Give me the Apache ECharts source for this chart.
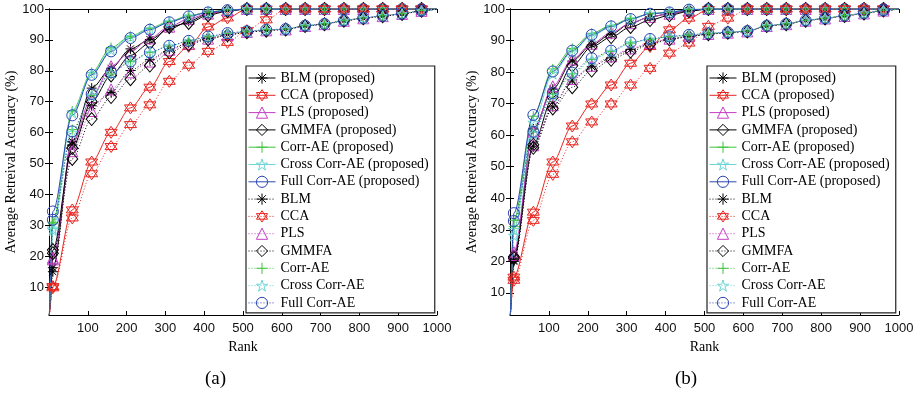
<!DOCTYPE html>
<html>
<head>
<meta charset="utf-8">
<script src="https://cdn.jsdelivr.net/npm/echarts@6/dist/echarts.min.js"></script>
<style>
html, body { margin: 0; padding: 0; background: #fff; }
#chart { width: 919px; height: 400px; }
</style>
</head>
<body>
<div id="chart"></div>
<script>
// ranks where values were read (markers every 50, plus start/end)
const ranks = [1, 10, 60, 110, 160, 210, 260, 310, 360, 410, 460, 510, 560, 610, 660, 710, 760, 810, 860, 910, 960, 1000];
const xTicks = [100, 200, 300, 400, 500, 600, 700, 800, 900, 1000];
const yTicks = [10, 20, 30, 40, 50, 60, 70, 80, 90, 100];
const names = [
  'BLM (proposed)', 'CCA (proposed)', 'PLS (proposed)', 'GMMFA (proposed)',
  'Corr-AE (proposed)', 'Cross Corr-AE (proposed)', 'Full Corr-AE (proposed)',
  'BLM', 'CCA', 'PLS', 'GMMFA', 'Corr-AE', 'Cross Corr-AE', 'Full Corr-AE'
];

// (a)
const blmPropA   = [1, 16.3, 57.2, 74.4, 80.8, 87.1, 90.1, 93.5, 96, 98.5, 99.5, 100, 100, 100, 100, 100, 100, 100, 100, 100, 100, 100];
const ccaPropA   = [1, 10.2, 35, 50.5, 60.1, 68, 74.7, 83, 87.9, 94.2, 97.1, 100, 100, 100, 100, 100, 100, 100, 100, 100, 100, 100];
const plsPropA   = [1, 19.5, 56.5, 71.5, 81.5, 86.2, 90.5, 94.3, 96.8, 98.5, 99.5, 100, 100, 100, 100, 100, 100, 100, 100, 100, 100, 100];
const gmmfaPropA = [1, 22, 55, 70, 78.5, 85, 89, 94.2, 95.5, 98, 99.3, 100, 100, 100, 100, 100, 100, 100, 100, 100, 100, 100];
const corrPropA  = [1, 31, 67, 79.5, 87.5, 91.2, 93.8, 96, 97.8, 99, 99.7, 100, 100, 100, 100, 100, 100, 100, 100, 100, 100, 100];
const crossPropA = [1, 29, 66.5, 79, 86.8, 91, 93.5, 95.8, 97.7, 99, 99.6, 100, 100, 100, 100, 100, 100, 100, 100, 100, 100, 100];
const fullPropA  = [1, 34.5, 65.6, 78.7, 86.3, 90.6, 93.3, 95.7, 97.6, 98.9, 99.6, 100, 100, 100, 100, 100, 100, 100, 100, 100, 100, 100];
const blmA   = [1, 15, 56, 68.7, 73, 80.1, 83.6, 87, 89, 90.5, 91.8, 92.6, 93.1, 93.4, 94.5, 95.1, 96.2, 97, 97.7, 98.4, 99.4, 100];
const ccaA   = [1, 9.8, 32.4, 46.7, 55.5, 62.6, 69, 76.6, 81.8, 86.3, 89.2, 93, 96.5, 100, 100, 100, 100, 100, 100, 100, 100, 100];
const plsA   = [1, 19, 54, 67, 74, 79.5, 83, 86.8, 88.8, 90.4, 91.6, 92.6, 93.1, 93.4, 94.5, 95.1, 96.2, 97, 97.7, 98.4, 99.4, 100];
const gmmfaA = [1, 21, 51.5, 64.4, 71.5, 77.3, 81.7, 86, 88.5, 90.2, 91.5, 92.5, 93, 93.4, 94.5, 95.1, 96.2, 97, 97.7, 98.4, 99.4, 100];
const corrA  = [1, 30.5, 61, 72, 79, 83, 86, 88, 89.6, 91, 92.1, 92.8, 93.3, 93.5, 94.6, 95.2, 96.3, 97.1, 97.8, 98.5, 99.5, 100];
const crossA = [1, 28.5, 60, 72, 79.3, 82.8, 85.8, 88, 89.6, 91, 92.1, 92.8, 93.3, 93.5, 94.6, 95.2, 96.3, 97.1, 97.8, 98.5, 99.5, 100];
const fullA  = [1, 31.8, 60.4, 72.5, 79.5, 83, 86, 88.1, 89.7, 91.1, 92.2, 92.8, 93.3, 93.5, 94.6, 95.2, 96.3, 97.1, 97.8, 98.5, 99.5, 100];

// (b)
const blmPropB   = [3, 20.3, 62, 74.6, 83.5, 88.6, 92, 95.5, 97.5, 98.5, 99.5, 100, 100, 100, 100, 100, 100, 100, 100, 100, 100, 100];
const ccaPropB   = [3, 15, 35.6, 51.5, 62.9, 69.9, 75.9, 82.8, 88.1, 93.4, 97.1, 99.8, 100, 100, 100, 100, 100, 100, 100, 100, 100, 100];
const plsPropB   = [3, 22.9, 61.1, 75.5, 84, 89, 92.5, 95.5, 97.5, 98.5, 99.5, 100, 100, 100, 100, 100, 100, 100, 100, 100, 100, 100];
const gmmfaPropB = [3, 21.5, 57, 72, 82, 88, 91.1, 94.3, 96.5, 98, 99.3, 100, 100, 100, 100, 100, 100, 100, 100, 100, 100, 100];
const corrPropB  = [3, 33, 66, 81, 87.5, 92.3, 94.8, 97, 98.5, 99, 99.8, 100, 100, 100, 100, 100, 100, 100, 100, 100, 100, 100];
const crossPropB = [3, 30, 64, 79.5, 86.5, 91.5, 94.3, 96.8, 98.5, 99, 99.8, 100, 100, 100, 100, 100, 100, 100, 100, 100, 100, 100];
const fullPropB  = [3, 35.3, 66.4, 80.2, 86.8, 91.8, 94.5, 96.8, 98.5, 98.9, 99.8, 100, 100, 100, 100, 100, 100, 100, 100, 100, 100, 100];
const blmB   = [3, 20, 56.5, 69, 77.5, 81.7, 84.5, 87.2, 89, 90.5, 91.3, 92.1, 92.5, 92.9, 94.6, 95.2, 96.3, 97, 97.8, 98.6, 99.5, 100];
const ccaB   = [3, 14, 33, 47.6, 57.9, 64.2, 69.9, 75.9, 81.2, 86, 89.2, 94.5, 97.1, 100, 100, 100, 100, 100, 100, 100, 100, 100];
const plsB   = [3, 22, 56.8, 69.5, 77.8, 82, 85, 87.5, 89.2, 90.6, 91.4, 92.1, 92.5, 92.9, 94.6, 95.2, 96.3, 97, 97.8, 98.6, 99.5, 100];
const gmmfaB = [3, 21, 56, 68.5, 75.2, 80.5, 83.9, 86.5, 88.8, 90.3, 91.2, 92, 92.5, 92.9, 94.6, 95.2, 96.3, 97, 97.8, 98.6, 99.5, 100];
const corrB  = [3, 31, 61, 73, 79.5, 84, 86.5, 89.2, 90.4, 91.2, 91.7, 92.3, 92.6, 93, 94.7, 95.3, 96.4, 97.1, 97.9, 98.7, 99.6, 100];
const crossB = [3, 28.2, 60.5, 72.5, 79, 83.8, 86.5, 89.2, 90.4, 91.2, 91.7, 92.3, 92.6, 93, 94.7, 95.3, 96.4, 97.1, 97.9, 98.7, 99.6, 100];
const fullB  = [3, 32.8, 61.1, 73.3, 79.8, 84.4, 86.8, 89.4, 90.5, 91.3, 91.8, 92.3, 92.6, 93, 94.7, 95.3, 96.4, 97.1, 97.9, 98.7, 99.6, 100];

const panelA = [blmPropA, ccaPropA, plsPropA, gmmfaPropA, corrPropA, crossPropA, fullPropA,
                blmA, ccaA, plsA, gmmfaA, corrA, crossA, fullA];
const panelB = [blmPropB, ccaPropB, plsPropB, gmmfaPropB, corrPropB, crossPropB, fullPropB,
                blmB, ccaB, plsB, gmmfaB, corrB, crossB, fullB];

// marker shapes (matlab-ish)
const asterisk = 'path://M0,-5L0,5M-5,0L5,0M-3.5,-3.5L3.5,3.5M-3.5,3.5L3.5,-3.5';
const hexagram = 'path://M0,-10L8.66,5L-8.66,5ZM0,10L8.66,-5L-8.66,-5Z';
const plus = 'path://M0,-5L0,5M-5,0L5,0';
const pentagram = 'path://M0,-10L2.245,-3.09L9.51,-3.09L3.633,1.18L5.88,8.09L0,3.82L-5.88,8.09L-3.633,1.18L-9.51,-3.09L-2.245,-3.09Z';

const looks = [
  { color: '#000000', symbol: asterisk, size: 10 },
  { color: '#e8241f', symbol: hexagram, size: 12 },
  { color: '#c43cc4', symbol: 'triangle', size: 11 },
  { color: '#000000', symbol: 'diamond', size: [11, 13] },
  { color: '#3cc43c', symbol: plus, size: 10 },
  { color: '#6ed6d6', symbol: pentagram, size: 11 },
  { color: '#2c46b4', symbol: 'circle', size: 11 }
];

function buildSeries(list, g) {
  return list.map((vals, k) => {
    const lk = looks[k % 7];
    return {
      name: names[k],
      type: 'line',
      xAxisIndex: g * 2,
      yAxisIndex: g * 2,
      data: vals.map((v, i) => (i === 0 || i === ranks.length - 1)
        ? { value: [ranks[i], v], symbol: 'none' }
        : [ranks[i], v]),
      symbol: lk.symbol,
      symbolSize: lk.size,
      smooth: 0.3,
      smoothMonotone: 'x',
      lineStyle: { color: lk.color, width: 1, type: k < 7 ? 'solid' : [1, 2] },
      itemStyle: { color: 'rgba(0,0,0,0)', borderColor: lk.color, borderWidth: 1 },
      emphasis: { disabled: true }
    };
  });
}

const serif = 'Liberation Serif';
const sans = 'Liberation Sans';
const grids = [
  { left: 49, top: 9, width: 388, height: 306 },
  { left: 510, top: 9, width: 389, height: 306 }
];
const yMins = [1, 3];

const xAxes = [], yAxes = [];
grids.forEach((gr, g) => {
  xAxes.push({
    type: 'value', gridIndex: g, min: 0, max: 1000, interval: 100,
    name: 'Rank', nameLocation: 'middle', nameGap: 23,
    nameTextStyle: { fontFamily: serif, fontSize: 14, color: '#000' },
    axisLine: { lineStyle: { color: '#000' } },
    axisTick: { inside: true, length: 4, lineStyle: { color: '#000' } },
    axisLabel: { fontFamily: sans, fontSize: 13, color: '#111', margin: 7,
      formatter: v => v === 0 ? '' : v },
    splitLine: { show: false }
  });
  xAxes.push({
    type: 'value', gridIndex: g, position: 'top', min: 0, max: 1000, interval: 100,
    axisLine: { lineStyle: { color: '#000' } },
    axisTick: { inside: true, length: 4, lineStyle: { color: '#000' } },
    axisLabel: { show: false }, splitLine: { show: false }
  });
  yAxes.push({
    type: 'value', gridIndex: g, min: yMins[g], max: 100,
    name: 'Average Retreival Accuracy (%)', nameLocation: 'middle', nameGap: 29,
    nameTextStyle: { fontFamily: serif, fontSize: 14, color: '#000' },
    axisLine: { lineStyle: { color: '#000' } },
    axisTick: { inside: true, length: 4, customValues: yTicks, lineStyle: { color: '#000' } },
    axisLabel: { fontFamily: sans, fontSize: 13, color: '#111', margin: 5, customValues: yTicks },
    splitLine: { show: false }
  });
  yAxes.push({
    type: 'value', gridIndex: g, position: 'right', min: yMins[g], max: 100,
    axisLine: { lineStyle: { color: '#000' } },
    axisTick: { inside: true, length: 4, customValues: yTicks, lineStyle: { color: '#000' } },
    axisLabel: { show: false }, splitLine: { show: false }
  });
});

const legendBase = {
  data: names, orient: 'vertical', top: 66,
  itemWidth: 27, itemHeight: 14, itemGap: 3.3,
  padding: [5, 6, 3, 2],
  borderColor: '#222', borderWidth: 1.2, backgroundColor: '#fff',
  selectedMode: false,
  itemStyle: { borderWidth: 1 },
  lineStyle: { width: 1 },
  textStyle: { fontFamily: serif, fontSize: 14, color: '#000' }
};

const chart = echarts.init(document.getElementById('chart'));
chart.setOption({
  animation: false,
  backgroundColor: '#fff',
  grid: grids,
  xAxis: xAxes,
  yAxis: yAxes,
  legend: [
    Object.assign({}, legendBase, { left: 246 }),
    Object.assign({}, legendBase, { left: 707 })
  ],
  graphic: [
    { type: 'text', left: 205, top: 370, style: { text: '(a)', fontFamily: serif, fontSize: 19, fill: '#000' } },
    { type: 'text', left: 675, top: 370, style: { text: '(b)', fontFamily: serif, fontSize: 19, fill: '#000' } }
  ],
  series: buildSeries(panelA, 0).concat(buildSeries(panelB, 1))
});
</script>
</body>
</html>
